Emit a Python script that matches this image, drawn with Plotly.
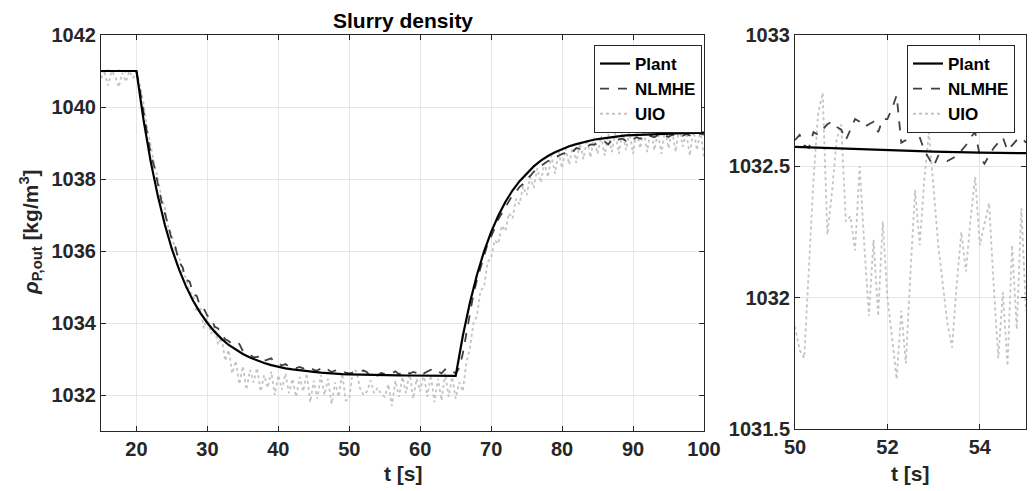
import plotly.graph_objects as go

# ---------------- data ----------------
t_plant = [15, 20, 21, 22, 23, 24, 25, 26, 27, 28, 29, 30, 31, 32, 33, 34, 35, 36, 37, 38, 39,
           40, 41, 42, 43, 44, 45, 46, 47, 48, 49, 50, 51, 52, 53, 54, 55, 56, 57, 58, 59, 60,
           61, 62, 63, 64, 65, 66, 67, 68, 69, 70, 71, 72, 73, 74, 75, 76, 77, 78, 79, 80,
           81, 82, 83, 84, 85, 86, 87, 88, 89, 90, 91, 92, 93, 94, 95, 96, 97, 98, 99, 100]
plant = [1041.00, 1041.00, 1039.64, 1038.49, 1037.54, 1036.73, 1036.05, 1035.49, 1035.01,
         1034.61, 1034.28, 1034.00, 1033.76, 1033.56, 1033.39, 1033.26, 1033.14, 1033.04,
         1032.96, 1032.89, 1032.83, 1032.78, 1032.74, 1032.71, 1032.68, 1032.66, 1032.64,
         1032.62, 1032.60, 1032.59, 1032.58, 1032.574, 1032.567, 1032.561, 1032.556, 1032.552,
         1032.548, 1032.545, 1032.543, 1032.541, 1032.539, 1032.537, 1032.536, 1032.535,
         1032.534, 1032.533, 1032.533,
         1033.64, 1034.56, 1035.34, 1035.99, 1036.53, 1036.98, 1037.36, 1037.68, 1037.94,
         1038.16, 1038.35, 1038.51, 1038.64, 1038.74, 1038.83, 1038.91, 1038.97, 1039.03,
         1039.07, 1039.11, 1039.14, 1039.17, 1039.19, 1039.21, 1039.22, 1039.23, 1039.24,
         1039.25, 1039.26, 1039.27, 1039.27, 1039.28, 1039.28, 1039.28, 1039.29]

# estimator outputs, 0.5 s sampling, t = 15.0 ... 100.0
t_est = [15 + 0.5 * i for i in range(171)]
nlmhe = [
    1041.00, 1040.99, 1041.01, 1041.00, 1040.98, 1041.01, 1041.00, 1040.99, 1041.01, 1041.00,
    1041.00, 1040.45, 1039.85, 1039.30, 1038.70, 1038.35, 1037.85, 1037.40, 1037.05, 1036.70,
    1036.30, 1036.10, 1035.70, 1035.55, 1035.20, 1035.15, 1034.80, 1034.75, 1034.45, 1034.40,
    1034.20, 1034.15, 1033.90, 1033.85, 1033.70, 1033.55, 1033.50, 1033.40, 1033.45, 1033.42,
    1033.22, 1033.15, 1033.12, 1033.05, 1033.05, 1033.10, 1032.95, 1032.98, 1033.02, 1032.90,
    1032.88, 1032.82, 1032.86, 1032.78, 1032.80, 1032.75, 1032.78, 1032.74, 1032.70, 1032.76,
    1032.70, 1032.68, 1032.74, 1032.66, 1032.70, 1032.64, 1032.68, 1032.63, 1032.66, 1032.62,
    1032.60, 1032.62, 1032.64, 1032.65, 1032.68, 1032.63, 1032.50, 1032.54, 1032.54, 1032.61,
    1032.59, 1032.63, 1032.60, 1032.66, 1032.58, 1032.62, 1032.67, 1032.59, 1032.64, 1032.61,
    1032.68, 1032.60, 1032.65, 1032.70, 1032.62, 1032.66, 1032.60, 1032.71, 1032.63, 1032.67,
    1032.60, 1032.75, 1033.15, 1033.70, 1034.30, 1034.80, 1035.20, 1035.55, 1035.90, 1036.20,
    1036.40, 1036.65, 1036.88, 1037.05, 1037.20, 1037.38, 1037.55, 1037.65, 1037.78, 1037.86,
    1038.02, 1038.08, 1038.20, 1038.26, 1038.36, 1038.42, 1038.50, 1038.52, 1038.62, 1038.64,
    1038.70, 1038.72, 1038.80, 1038.76, 1038.86, 1038.84, 1038.92, 1038.90, 1038.96, 1038.95,
    1039.00, 1038.98, 1039.04, 1038.96, 1039.08, 1039.02, 1039.10, 1039.12, 1039.06, 1039.14,
    1039.10, 1039.16, 1039.12, 1039.18, 1039.14, 1039.20, 1039.16, 1039.22, 1039.18, 1039.21,
    1039.17, 1039.23, 1039.19, 1039.24, 1039.20, 1039.25, 1039.21, 1039.24, 1039.22, 1039.26,
    1039.23]
uio = [
    1040.80, 1040.95, 1040.60, 1041.00, 1040.85, 1040.55, 1040.95, 1040.70, 1041.00, 1040.80,
    1040.95, 1040.60, 1040.10, 1039.40, 1038.95, 1038.40, 1038.05, 1037.50, 1037.20, 1036.65,
    1036.45, 1035.95, 1035.85, 1035.40, 1035.25, 1034.85, 1034.80, 1034.30, 1034.45, 1033.85,
    1034.15, 1033.70, 1033.90, 1033.40, 1033.60, 1032.95, 1033.25, 1032.60, 1032.95, 1032.30,
    1032.80, 1032.15, 1032.70, 1032.35, 1032.75, 1032.10, 1032.55, 1032.20, 1032.65, 1032.00,
    1032.55, 1032.15, 1032.60, 1032.05, 1032.45, 1031.95, 1032.50, 1032.10, 1032.60, 1031.80,
    1032.40, 1031.90, 1032.55, 1032.00, 1032.45, 1031.75, 1032.35, 1031.95, 1032.60, 1031.85,
    1031.89, 1032.70, 1032.66, 1032.20, 1032.00, 1032.10, 1032.40, 1032.05, 1032.20, 1032.02,
    1031.95, 1032.30, 1031.70, 1032.40, 1031.95, 1032.50, 1032.05, 1032.65, 1031.90, 1032.45,
    1032.10, 1032.60, 1031.95, 1032.55, 1031.80, 1032.45, 1031.85, 1032.60, 1031.95, 1032.50,
    1031.90, 1032.35, 1032.10, 1032.90, 1033.30, 1034.00, 1034.20, 1034.90, 1035.00, 1035.70,
    1035.80, 1036.30, 1036.20, 1036.70, 1036.55, 1037.05, 1036.90, 1037.45, 1037.30, 1037.80,
    1037.55, 1038.05, 1037.75, 1038.30, 1037.90, 1038.45, 1038.05, 1038.65, 1038.15, 1038.75,
    1038.30, 1038.85, 1038.40, 1038.95, 1038.45, 1039.00, 1038.55, 1039.10, 1038.60, 1039.15,
    1038.70, 1039.20, 1038.65, 1039.25, 1038.75, 1039.30, 1038.70, 1039.35, 1038.80, 1039.30,
    1038.70, 1039.40, 1038.85, 1039.35, 1038.75, 1039.45, 1038.80, 1039.30, 1038.70, 1039.40,
    1038.85, 1039.35, 1038.75, 1039.45, 1038.90, 1039.30, 1038.65, 1039.40, 1038.80, 1039.35,
    1038.60]

# detailed window 50 ... 55 s, 0.1 s sampling
t_zoom = [round(50 + 0.1 * i, 1) for i in range(51)]
nlmhe_zoom = [
    1032.60, 1032.62, 1032.58, 1032.57, 1032.63, 1032.62, 1032.64, 1032.66, 1032.67, 1032.65,
    1032.64, 1032.60, 1032.64, 1032.68, 1032.67, 1032.65, 1032.66, 1032.67, 1032.63, 1032.68,
    1032.68, 1032.72, 1032.77, 1032.59, 1032.60, 1032.63, 1032.65, 1032.61, 1032.56, 1032.53,
    1032.50, 1032.54, 1032.53, 1032.52, 1032.53, 1032.54, 1032.56, 1032.58, 1032.61, 1032.63,
    1032.54, 1032.51, 1032.54, 1032.57, 1032.59, 1032.61, 1032.56, 1032.58, 1032.60, 1032.61,
    1032.59]
uio_zoom = [
    1031.89, 1031.80, 1031.77, 1032.10, 1032.45, 1032.70, 1032.78, 1032.24, 1032.40, 1032.60,
    1032.66, 1032.29, 1032.31, 1032.18, 1032.50, 1032.20, 1031.93, 1032.22, 1031.93, 1032.29,
    1032.00, 1031.85, 1031.69, 1031.95, 1031.75, 1032.10, 1032.41, 1032.20, 1032.45, 1032.63,
    1032.40, 1032.20, 1032.05, 1031.90, 1031.81, 1032.05, 1032.25, 1032.10, 1032.30, 1032.46,
    1032.20, 1032.28, 1032.36, 1032.05, 1031.77, 1032.02, 1031.74, 1032.20, 1031.88, 1032.34,
    1031.95]

series_names = ["Plant", "NLMHE", "UIO"]
left_xticks = [20, 30, 40, 50, 60, 70, 80, 90, 100]
left_yticks = [1032, 1034, 1036, 1038, 1040, 1042]
right_xticks = [50, 52, 54]
right_yticks = [1031.5, 1032, 1032.5, 1033]
right_yticktext = ["1031.5", "1032", "1032.5", "1033"]

# ---------------- styling ----------------
FONT = "Liberation Sans, Arial, sans-serif"
# the page body keeps its default 8 px margin: the figure starts 8 px in from the top-left corner
OFF = 8
W, H = 1036 - OFF, 491 - OFF


def px(x):
    return (x - OFF) / W


def py(y):
    return 1 - (y - OFF) / H


AX = "#262626"
GRID = "#e6e6e6"
styles = {
    "Plant": dict(color="black", width=2.2, dash="solid"),
    "NLMHE": dict(color="#404040", width=1.8, dash="dash"),
    "UIO": dict(color="#c4c4c4", width=1.8, dash="dot"),
}

fig = go.Figure()

left_data = {"Plant": (t_plant, plant), "NLMHE": (t_est, nlmhe), "UIO": (t_est, uio)}
right_data = {"Plant": (t_plant, plant), "NLMHE": (t_zoom, nlmhe_zoom), "UIO": (t_zoom, uio_zoom)}

for name in ["UIO", "NLMHE", "Plant"]:
    x, y = left_data[name]
    fig.add_trace(go.Scatter(x=x, y=y, mode="lines", name=name, line=styles[name],
                             xaxis="x", yaxis="y", legend="legend", legendrank=series_names.index(name)))
for name in ["UIO", "NLMHE", "Plant"]:
    x, y = right_data[name]
    fig.add_trace(go.Scatter(x=x, y=y, mode="lines", name=name, line=styles[name],
                             xaxis="x2", yaxis="y2", legend="legend2", legendrank=series_names.index(name)))

axis_common = dict(showline=True, linecolor=AX, linewidth=1, mirror="ticks", ticks="inside",
                   ticklen=5, tickcolor=AX, showgrid=True, gridcolor=GRID, gridwidth=1,
                   zeroline=False, automargin=False,
                   tickfont=dict(family=FONT, size=20, color="#262626", weight="bold"))

legend_common = dict(yanchor="top", xanchor="right", bgcolor="white", bordercolor=AX, borderwidth=1,
                     traceorder="normal", itemwidth=30, tracegroupgap=0,
                     font=dict(family=FONT, size=17, color="black", weight="bold"))

fig.update_layout(
    width=W, height=H, autosize=False,
    margin=dict(l=0, r=0, t=0, b=0, autoexpand=False),
    paper_bgcolor="white", plot_bgcolor="white",
    font=dict(family=FONT, color="#262626"),
    showlegend=True,
    xaxis=dict(domain=[px(101), px(704)], range=[15, 100], tickvals=left_xticks, anchor="y",
               **axis_common),
    yaxis=dict(domain=[py(431), py(35)], range=[1031, 1042], tickvals=left_yticks, anchor="x",
               **axis_common),
    xaxis2=dict(domain=[px(795), px(1026)], range=[50, 55], tickvals=right_xticks, anchor="y2",
                **axis_common),
    yaxis2=dict(domain=[py(429), py(35)], range=[1031.5, 1033], tickvals=right_yticks,
                ticktext=right_yticktext, anchor="x2", **axis_common),
    legend=dict(x=px(702), y=py(45), **legend_common),
    legend2=dict(x=px(1015), y=py(45), **legend_common),
    annotations=[
        dict(text="Slurry density", x=px(403), y=py(20), xref="paper", yref="paper",
             showarrow=False, xanchor="center", yanchor="middle",
             font=dict(family=FONT, size=21, color="black", weight="bold")),
        dict(text="t [s]", x=px(403), y=py(473), xref="paper", yref="paper",
             showarrow=False, xanchor="center", yanchor="middle",
             font=dict(family=FONT, size=21, color="#262626", weight="bold")),
        dict(text="t [s]", x=px(910), y=py(473), xref="paper", yref="paper",
             showarrow=False, xanchor="center", yanchor="middle",
             font=dict(family=FONT, size=21, color="#262626", weight="bold")),
        dict(text="<i>ρ</i><sub>P,out</sub> [kg/m<sup>3</sup>]", x=px(30), y=py(232),
             xref="paper", yref="paper", showarrow=False, textangle=-90,
             xanchor="center", yanchor="middle",
             font=dict(family=FONT, size=21, color="#262626", weight="bold")),
    ],
)

fig.write_html("out.html")
